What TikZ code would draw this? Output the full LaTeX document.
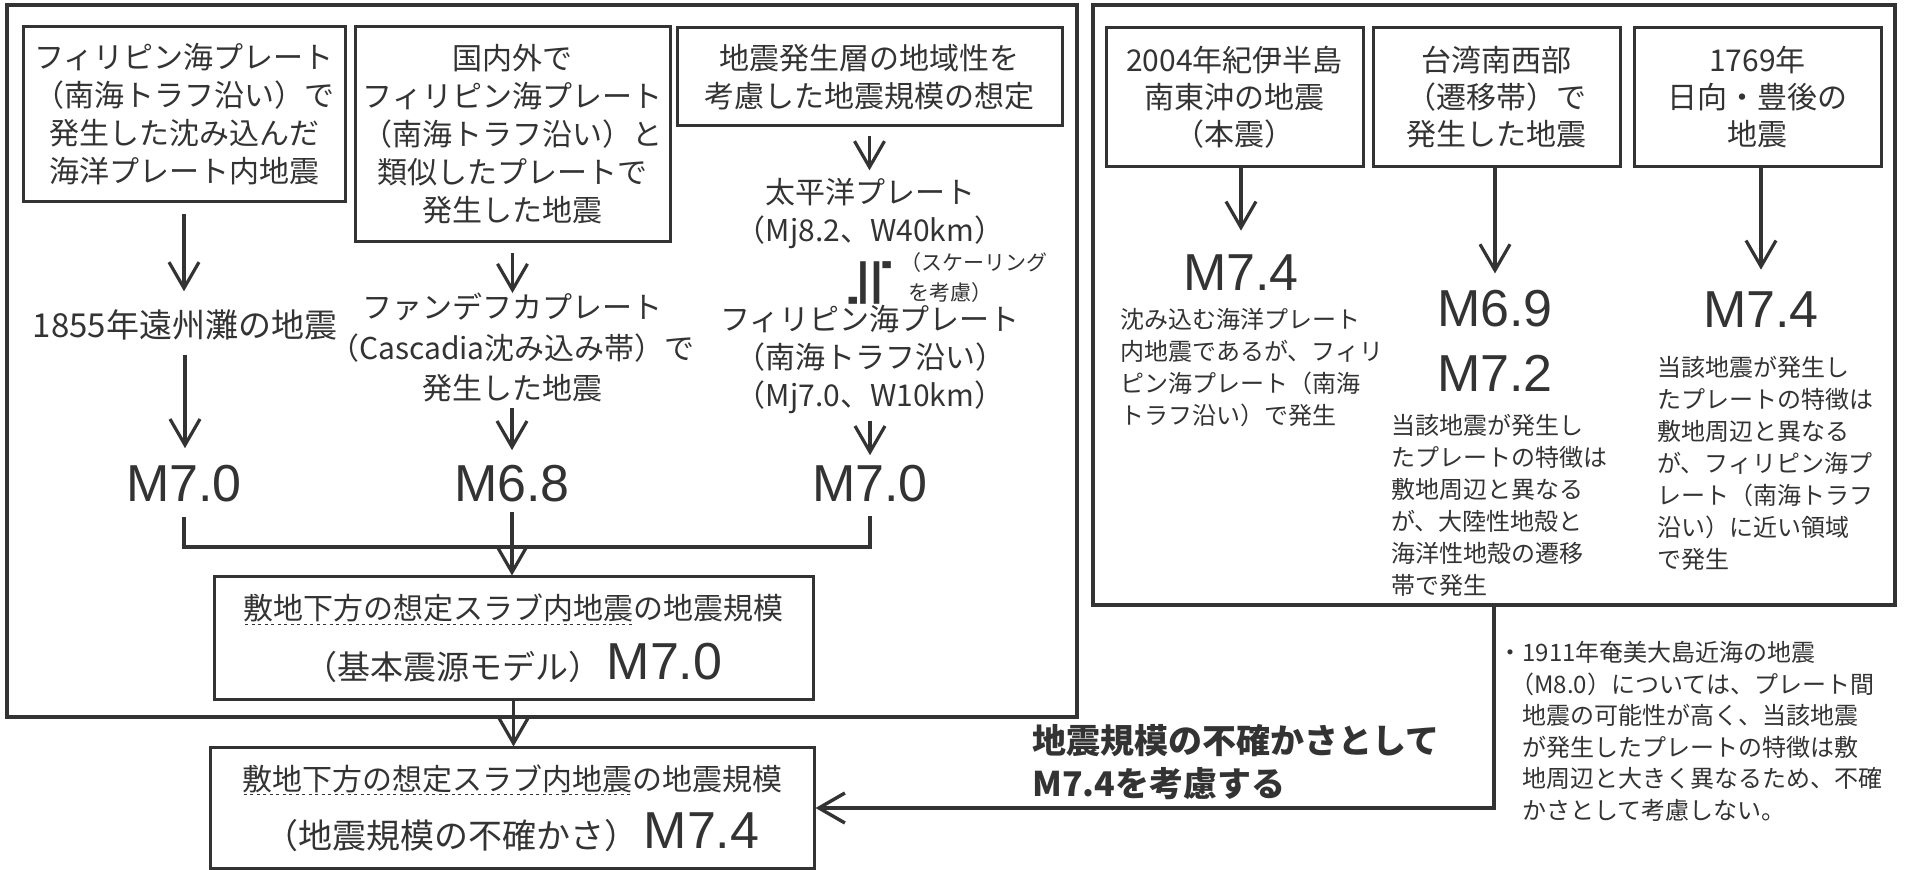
\documentclass[tikz,border=0pt]{standalone}
\usepackage{fontspec}
\setmainfont{Noto Sans CJK JP}
\newfontfamily\magfont{Liberation Sans}
\newfontfamily\symfont{DejaVu Sans}
\usetikzlibrary{arrows.meta}
\definecolor{ink}{HTML}{333333}
\newsavebox\ulbox
\newcommand\fineuline[1]{\sbox\ulbox{#1}\rlap{\raisebox{-2.5pt}{\hbox to \wd\ulbox{\xleaders\hbox{\kern0.8pt\vrule width 1.6pt height 0.5pt\kern0.8pt}\hfill}}}\usebox\ulbox}

\begin{document}
\begin{tikzpicture}[x=0.5pt, y=-0.5pt, line join=miter,
    every node/.style={text=ink, inner sep=0pt},
    bigframe/.style={draw=ink, line width=2pt},
    casebox/.style={draw=ink, line width=1.5pt, align=center, font=\fontsize{15}{19}\selectfont},
    lbl/.style={align=center, font=\fontsize{15}{19}\selectfont},
    mag/.style={font=\magfont\fontsize{26}{32.5}\selectfont, align=center},
    desc/.style={anchor=north west, align=left, font=\fontsize{12}{16}\selectfont},
    conn/.style={draw=ink, line width=1.6pt},
    arr/.style={conn, -{Straight Barb[length=13pt,width=15pt]}}]
  \useasboundingbox (0,0) rectangle (1906,870);

  % frames
  \node[bigframe, minimum width=535pt, minimum height=356pt] (leftframe) at (542,361) {};
  \node[bigframe, minimum width=401pt, minimum height=300pt] (rightframe) at (1494,305) {};

  % left: three routes
  \node[casebox, minimum width=161pt, minimum height=87.5pt] (boxA) at (184,114.5)
    {フィリピン海プレート\\（南海トラフ沿い）で\\発生した沈み込んだ\\海洋プレート内地震};
  \node[casebox, minimum width=157.5pt, minimum height=107.5pt] (boxB) at (512.5,134.5)
    {国内外で\\フィリピン海プレート\\（南海トラフ沿い）と\\類似したプレートで\\発生した地震};
  \node[casebox, minimum width=192.5pt, minimum height=49pt] (boxC) at (869.5,77)
    {地震発生層の地域性を\\考慮した地震規模の想定};

  \node[lbl, font=\fontsize{16.5}{20}\selectfont] (enshu) at (185,325) {1855年遠州灘の地震};
  \node[lbl, font=\fontsize{15}{20}\selectfont] (juan) at (512,347.5)
    {ファンデフカプレート\\（Cascadia沈み込み帯）で\\発生した地震};
  \node[lbl] (pac) at (870,214) {太平洋プレート\\（Mj8.2、W40km）};
  \node[font=\symfont\fontsize{34}{34}\selectfont, rotate=90] (approx) at (870,283) {≒};
  \node[anchor=west, align=left, font=\fontsize{10.5}{15}\selectfont] (scal) at (900,278)
    {（スケーリング\\\hspace*{4pt}を考慮）};
  \node[lbl] (phil) at (870,360) {フィリピン海プレート\\（南海トラフ沿い）\\（Mj7.0、W10km）};

  \node[mag] (mA) at (184,484) {M7.0};
  \node[mag] (mB) at (512,484) {M6.8};
  \node[mag] (mC) at (870,484) {M7.0};

  \draw[arr, shorten <=5.5pt, shorten >=9pt] (boxA.south) -- (boxA.south |- enshu.north);
  \draw[arr, shorten <=7pt, shorten >=8.5pt] (enshu.south) -- (enshu.south |- mA.north);
  \draw[arr, shorten <=5pt] (boxB.south) -- (boxB.south |- juan.north);
  \draw[arr, shorten <=3pt, shorten >=7.5pt] (juan.south) -- (juan.south |- mB.north);
  \draw[arr, shorten <=4.5pt, shorten >=4pt] (boxC.south) -- (boxC.south |- pac.north);
  \draw[arr, shorten <=3pt, shorten >=5pt] (phil.south) -- (phil.south |- mC.north);

  % merge into the base model
  \coordinate (join) at (512,547);
  \draw[conn, shorten <=7pt, shorten >=6.5pt] (mA.south) |- (join) -| (mC.south);

  \node[casebox, minimum width=299.5pt, minimum height=61.5pt, font=\fontsize{15}{30}\selectfont] (boxD) at (513.5,638.5)
    {\fineuline{敷地下方の想定スラブ内地震}の地震規模\\{\fontsize{16.5}{30}\selectfont （基本震源モデル）}\,{\magfont\fontsize{26}{30}\selectfont M7.0}};
  \node[casebox, minimum width=302pt, minimum height=60pt, font=\fontsize{15}{29}\selectfont] (boxE) at (512,808)
    {\fineuline{敷地下方の想定スラブ内地震}の地震規模\\{\fontsize{17}{29}\selectfont （地震規模の不確かさ）}\,{\magfont\fontsize{26}{29}\selectfont M7.4}};

  \draw[arr, shorten <=4.75pt] (mB.south) -- (mB.south |- boxD.north);
  \draw[arr] (boxD.south) -- (boxD.south |- boxE.north);

  % right: other plates
  \node[casebox, minimum width=128.5pt, minimum height=69.5pt, font=\fontsize{15}{18.5}\selectfont] (boxF) at (1234.5,97.5)
    {2004年紀伊半島\\南東沖の地震\\（本震）};
  \node[casebox, minimum width=123.5pt, minimum height=69.5pt, font=\fontsize{15}{18.5}\selectfont] (boxG) at (1496.5,97.5)
    {台湾南西部\\（遷移帯）で\\発生した地震};
  \node[casebox, minimum width=123.5pt, minimum height=69.5pt, font=\fontsize{15}{18.5}\selectfont] (boxH) at (1757.5,97.5)
    {1769年\\日向・豊後の\\地震};

  \node[mag] (mF) at (1241,273) {M7.4};
  \node[mag] (mG) at (1495,340.5) {M6.9\\M7.2};
  \node[mag] (mH) at (1761,310) {M7.4};

  \draw[arr, shorten >=12pt] (mF.north |- boxF.south) -- (mF.north);
  \draw[arr, shorten >=8pt] (mG.north |- boxG.south) -- (mG.north);
  \draw[arr, shorten >=11pt] (mH.north |- boxH.south) -- (mH.north);

  \node[desc] (descF) at (1120,308)
    {沈み込む海洋プレート\\内地震であるが、フィリ\\ピン海プレート（南海\\トラフ沿い）で発生};
  \node[desc] (descG) at (1391,414)
    {当該地震が発生し\\たプレートの特徴は\\敷地周辺と異なる\\が、大陸性地殻と\\海洋性地殻の遷移\\帯で発生};
  \node[desc] (descH) at (1657,356)
    {当該地震が発生し\\たプレートの特徴は\\敷地周辺と異なる\\が、フィリピン海プ\\レート（南海トラフ\\沿い）に近い領域\\で発生};

  \draw[arr, line width=1.7pt] (rightframe.south) |- (boxE.east);
  \node[anchor=north west, align=left, font=\bfseries\fontsize{17}{21.5}\selectfont] (concl) at (1032,724)
    {地震規模の不確かさとして\\M7.4を考慮する};

  \node[desc, font=\fontsize{12}{15.75}\selectfont] (note) at (1498,641)
    {・1911年奄美大島近海の地震\\\hspace*{6pt}（M8.0）については、プレート間\\\hspace*{12pt}地震の可能性が高く、当該地震\\\hspace*{12pt}が発生したプレートの特徴は敷\\\hspace*{12pt}地周辺と大きく異なるため、不確\\\hspace*{12pt}かさとして考慮しない。};
\end{tikzpicture}
\end{document}
